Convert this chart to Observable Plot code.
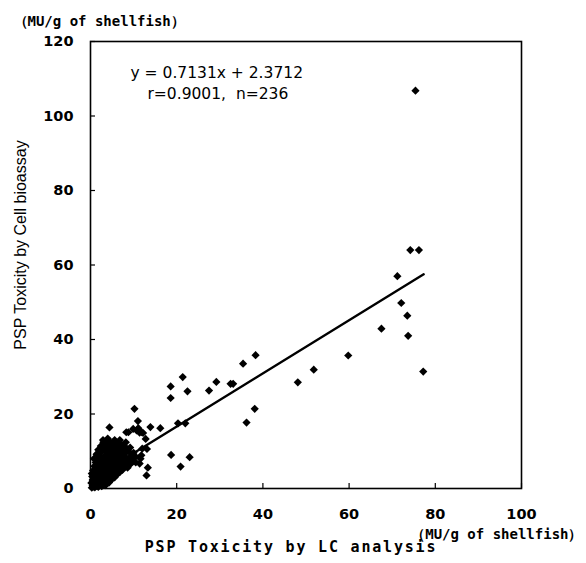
<!DOCTYPE html>
<html>
<head>
<meta charset="utf-8">
<script src="https://cdn.jsdelivr.net/npm/d3@7"></script>
<script src="https://cdn.jsdelivr.net/npm/@observablehq/plot@0.6"></script>
<style>
  html, body { margin: 0; padding: 0; background: #fff; }
</style>
</head>
<body>
<div id="chart"></div>
<script>
// Axis tick values
const xTicks = [0, 20, 40, 60, 80, 100];
const yTicks = [0, 20, 40, 60, 80, 100, 120];

// Regression (from the figure)
const slope = 0.7131;
const intercept = 2.3712;
const lineRange = [0, 77.3];
const equationText = "y = 0.7131x + 2.3712";
const statsText = "r=0.9001,  n=236";

// Texts
const unitText = "（MU/g of shellfish）";
const xLabel = "PSP Toxicity by LC analysis";
const yLabel = "PSP Toxicity by Cell bioassay";

// Data: [LC analysis, Cell bioassay] (MU/g)
const clusterLow = [
  [0.3,0.2],[0.6,0.5],[1.0,0.3],[1.4,0.8],[0.8,1.2],[1.8,0.4],[2.2,1.0],[2.6,0.6],[3.0,1.3],[3.5,0.9],
  [0.2,1.5],[1.2,1.8],[0.5,2.3],[2.0,2.0],[3.8,2.0],[4.3,1.6],[2.9,2.4],[1.6,2.8],[0.4,3.2],[1.0,3.6],
  [2.4,3.2],[3.3,3.0],[4.1,2.8],[5.0,2.5],[5.6,3.0],[4.6,3.6],[3.6,3.9],[2.0,4.0],[1.3,4.4],[0.6,4.8],
  [2.8,4.4],[5.3,4.1],[6.2,3.8],[6.8,4.4],[0.5,0.8],[1.1,1.1],[1.7,1.5],[2.3,1.7],[2.8,2.0],[3.3,2.3],
  [0.9,2.6],[1.5,3.3],[2.6,2.7],[3.9,3.3],[4.5,3.0],[0.3,4.0],[1.9,4.8],[3.1,4.8]
];
const clusterMid = [
  [4.0,4.6],[4.8,5.0],[3.4,5.2],[2.3,5.4],[1.6,5.8],[0.9,6.0],[5.8,5.2],[6.5,5.5],[7.4,5.0],[7.9,5.8],
  [8.6,5.6],[3.0,6.1],[4.2,6.0],[5.2,6.3],[6.0,6.6],[7.0,6.4],[2.2,6.6],[1.2,7.0],[8.3,6.8],[9.2,6.5],
  [9.8,7.2],[10.5,7.0],[11.4,6.7],[7.6,7.3],[6.7,7.6],[5.6,7.4],[4.6,7.0],[3.6,7.2],[2.7,7.5],[1.8,7.8],
  [0.8,8.0],[4.0,8.0],[5.0,8.3],[6.2,8.4],[7.2,8.2],[8.4,8.0],[9.4,8.4],[10.4,8.6],[11.8,8.9],[4.4,5.4],
  [5.4,5.6],[6.0,4.8],[2.7,5.9],[3.8,6.6],[4.9,6.7],[1.5,6.4],[6.4,7.1],[7.2,7.0],[5.2,7.8],[3.1,8.0],
  [8.9,7.4],[9.9,8.1],[7.8,8.7]
];
const clusterHigh = [
  [3.2,8.6],[2.2,8.8],[1.4,9.2],[4.4,9.0],[5.6,9.3],[6.8,9.2],[8.0,9.4],[9.0,9.8],[10.0,9.6],[3.6,9.8],
  [2.6,10.0],[4.8,10.2],[6.0,10.4],[7.4,10.2],[8.6,10.6],[1.8,10.4],[3.0,10.8],[4.2,11.0],[5.4,11.2],[6.6,11.0],
  [7.8,11.3],[9.2,11.0],[2.4,11.4],[3.6,11.8],[5.0,12.0],[6.2,12.2],[7.0,12.0],[8.2,12.4],[4.4,12.6],[3.0,12.4],
  [5.6,13.0],[6.8,13.0],[4.0,13.4],[2.0,9.5],[6.4,9.8]
];
const edgePoints = [
  [13.1,10.6],[11.6,8.0],[13.3,5.6],[13.0,3.5],[12.8,13.3],[12.0,10.7],[12.2,14.9],[11.4,15.0],[9.9,16.0],[8.3,15.1],
  [4.4,16.4],[2.9,13.0],[10.7,15.6],[11.0,18.1],[10.2,21.4],[13.9,16.5],[16.2,16.2],[11.9,15.1],[11.1,16.2],[8.8,15.1]
];
const scatterPoints = [
  [18.6,27.4],[18.6,24.3],[21.4,29.9],[22.5,26.1],[27.5,26.3],[29.2,28.6],[32.5,28.1],[33.1,28.1],[35.4,33.5],[38.3,35.8],
  [20.3,17.5],[22.0,17.5],[36.2,17.7],[38.1,21.4],[18.7,9.0],[23.0,8.4],[20.9,5.9],[48.1,28.5],[51.8,31.9],[59.8,35.7],
  [67.5,42.9],[71.2,57.0],[72.1,49.8],[73.5,46.4],[73.7,41.0],[74.2,64.0],[76.2,64.0],[77.2,31.4],[75.4,106.8]
];

const points = [...clusterLow, ...clusterMid, ...clusterHigh, ...edgePoints, ...scatterPoints]
  .map(([x, y]) => ({lc: x, cell: y}));
const fitLine = lineRange.map(x => ({lc: x, cell: slope * x + intercept}));

// inward tick length expressed in data units (≈5px)
const xTickLen = 1.35;
const yTickLen = 1.16;

const monoFont = "'DejaVu Sans Mono', monospace";
const sansFont = "'Liberation Sans', Arial, sans-serif";
const wideFont = "'DejaVu Sans', sans-serif";

const chart = Plot.plot({
  width: 586,
  height: 563,
  marginLeft: 90,
  marginRight: 65,
  marginTop: 41,
  marginBottom: 75,
  style: {fontFamily: sansFont, color: "#000", background: "#fff", overflow: "visible"},
  x: {domain: [0, 100], ticks: xTicks},
  y: {domain: [0, 120], ticks: yTicks},
  marks: [
    Plot.axisX({ticks: xTicks, tickSize: 0, tickPadding: 20, fontSize: 14.5, fontWeight: "bold", fontFamily: wideFont, label: null}),
    Plot.axisY({ticks: yTicks, tickSize: 0, tickPadding: 17, fontSize: 14.5, fontWeight: "bold", fontFamily: wideFont, label: null}),
    // inward tick marks
    Plot.ruleX(xTicks, {x: d => d, y1: 0, y2: xTickLen, stroke: "#000", strokeWidth: 1.2}),
    Plot.ruleY(yTicks, {y: d => d, x1: 0, x2: yTickLen, stroke: "#000", strokeWidth: 1.2}),
    Plot.frame({stroke: "#000", strokeWidth: 1.6}),
    Plot.line(fitLine, {x: "lc", y: "cell", stroke: "#000", strokeWidth: 2.4}),
    Plot.dot(points, {x: "lc", y: "cell", symbol: "diamond2", r: 3.7, fill: "#000", stroke: "none"}),
    Plot.text([equationText], {frameAnchor: "top-left", dx: 40, dy: 25, textAnchor: "start", fontSize: 15.5, fontFamily: wideFont, fill: "#000"}),
    Plot.text([statsText], {frameAnchor: "top-left", dx: 57, dy: 46, textAnchor: "start", fontSize: 15.5, fontFamily: wideFont, fill: "#000"}),
    Plot.text([unitText], {frameAnchor: "top-left", dx: -77, dy: -25, textAnchor: "start", fontSize: 14, fontWeight: "bold", fontFamily: monoFont, fill: "#000"}),
    Plot.text([unitText], {frameAnchor: "bottom-right", dx: 61, dy: 50, textAnchor: "end", fontSize: 14, fontWeight: "bold", fontFamily: monoFont, fill: "#000"}),
    Plot.text([xLabel], {frameAnchor: "bottom", dx: -15, dy: 63, textAnchor: "middle", fontSize: 15, fontWeight: "bold", fontFamily: monoFont, fill: "#000"}),
    Plot.text([yLabel], {frameAnchor: "left", dx: -70, dy: -20, rotate: -90, textAnchor: "middle", fontSize: 16, fontFamily: sansFont, fill: "#000"})
  ]
});

d3.select(chart).selectAll("text").filter(function() { return this.textContent === xLabel; })
  .attr("letter-spacing", "1.8px");

document.getElementById("chart").appendChild(chart);
</script>
</body>
</html>
